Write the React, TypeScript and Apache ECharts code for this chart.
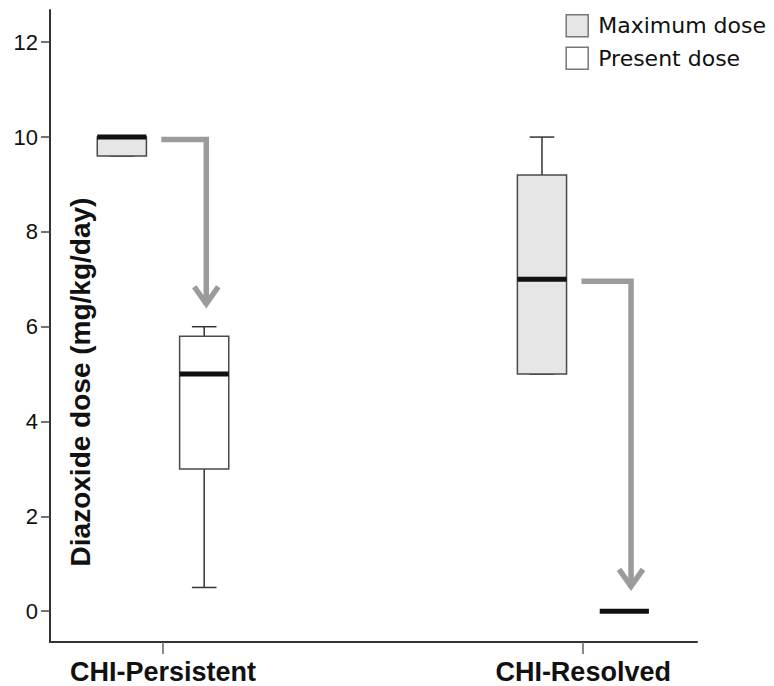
import React, { useEffect, useRef } from 'react';
import * as echarts from 'echarts';

const categories = ['CHI-Persistent', 'CHI-Resolved'];
const yTicks = [0, 2, 4, 6, 8, 10, 12];
// [min, Q1, median, Q3, max]
const maximumDose = [
  [9.6, 9.6, 10, 10, 10],
  [5, 5, 7, 9.2, 10],
];
const presentDose = [
  [0.5, 3, 5, 5.8, 6],
  [0, 0, 0, 0, 0],
];
// arrow from maximum-dose median down to present dose
const arrowStart = [9.95, 6.96];
const arrowEnd = [6.4, 0.44];

const BOX_OFFSET = 0.098;
const BOX_W = 0.117;
const ARROW_START_DX = -0.004;
const ARROW_TURN_DX = [0.103, 0.114];
const FONT = '"Liberation Sans", Arial, sans-serif';

function boxRenderer(offset: number, fill: string) {
  return (params: any, api: any) => {
    const ci = api.value(0);
    const x = ci + offset;
    const p = (v: number) => api.coord([x, v]);
    const [cx, yMin] = p(api.value(1));
    const yQ1 = p(api.value(2))[1];
    const yMed = p(api.value(3))[1];
    const yQ3 = p(api.value(4))[1];
    const yMax = p(api.value(5))[1];
    const halfW = api.coord([x + BOX_W / 2, 0])[0] - cx;
    const capHalf = halfW / 2;
    const wStyle = { stroke: '#333', lineWidth: 1.5 };
    const children: any[] = [
      { type: 'line', shape: { x1: cx, y1: yQ3, x2: cx, y2: yMax }, style: wStyle },
      { type: 'line', shape: { x1: cx, y1: yQ1, x2: cx, y2: yMin }, style: wStyle },
      { type: 'line', shape: { x1: cx - capHalf, y1: yMax, x2: cx + capHalf, y2: yMax }, style: wStyle },
      { type: 'line', shape: { x1: cx - capHalf, y1: yMin, x2: cx + capHalf, y2: yMin }, style: wStyle },
    ];
    if (yQ1 - yQ3 > 0.5) {
      children.push({
        type: 'rect',
        shape: { x: cx - halfW, y: yQ3, width: 2 * halfW, height: yQ1 - yQ3 },
        style: { fill, stroke: '#4a4a4a', lineWidth: 1.5 },
      });
    }
    children.push({
      type: 'line',
      shape: { x1: cx - halfW, y1: yMed, x2: cx + halfW, y2: yMed },
      style: { stroke: '#111', lineWidth: 5 },
    });
    return { type: 'group', children };
  };
}

function arrowRenderer(params: any, api: any) {
  const ci = api.value(0);
  const idx = params.dataIndex;
  const s = api.coord([ci + ARROW_START_DX, api.value(1)]);
  const c = api.coord([ci + ARROW_TURN_DX[idx], api.value(1)]);
  const t = api.coord([ci + ARROW_TURN_DX[idx], api.value(2)]);
  const st = { stroke: '#9b9b9b', lineWidth: 5.5, fill: 'none', lineJoin: 'miter', lineCap: 'butt' };
  return {
    type: 'group',
    children: [
      { type: 'polyline', shape: { points: [s, c, [t[0], t[1] - 3]] }, style: st },
      {
        type: 'polyline',
        shape: { points: [[t[0] - 12, t[1] - 21], [t[0], t[1] - 4], [t[0] + 12, t[1] - 21]] },
        style: st,
      },
    ],
  };
}

export default function App() {
  const ref = useRef<HTMLDivElement>(null);
  useEffect(() => {
    document.body.style.margin = '0';
    const chart = echarts.init(ref.current!, null, { renderer: 'svg' });
    chart.setOption({
      animation: false,
      backgroundColor: '#fff',
      grid: { left: 50, right: 77, top: 10, bottom: 44 },
      legend: {
        orient: 'vertical',
        right: 3,
        top: 9,
        itemWidth: 22,
        itemHeight: 22,
        itemGap: 9,
        icon: 'rect',
        selectedMode: false,
        textStyle: { fontSize: 22, fontFamily: '"DejaVu Sans", sans-serif', color: '#111', padding: [0, 0, 0, 5] },
        data: [
          { name: 'Maximum dose', itemStyle: { color: '#e6e6e6', borderColor: '#777', borderWidth: 1.5 } },
          { name: 'Present dose', itemStyle: { color: '#ffffff', borderColor: '#777', borderWidth: 1.5 } },
        ],
      },
      xAxis: {
        type: 'value',
        min: -0.269,
        max: 1.271,
        axisLine: { onZero: false, lineStyle: { color: '#333', width: 2 } },
        axisTick: { customValues: [0, 1], length: 12, lineStyle: { color: '#666', width: 1.5 } },
        axisLabel: {
          customValues: [0, 1],
          formatter: (v: number) => categories[Math.round(v)],
          fontSize: 27,
          fontWeight: 'bold',
          fontFamily: FONT,
          color: '#111',
          margin: 16,
        },
        splitLine: { show: false },
      },
      yAxis: {
        type: 'value',
        min: -0.65,
        max: 12.68,
        axisLine: { show: true, onZero: false, lineStyle: { color: '#333', width: 2 } },
        axisTick: { show: true, customValues: yTicks, length: 9, lineStyle: { color: '#444', width: 1.5 } },
        axisLabel: { customValues: yTicks, fontSize: 22, fontFamily: FONT, color: '#111', margin: 12 },
        splitLine: { show: false },
      },
      graphic: [
        {
          type: 'text',
          x: 80,
          y: 382,
          rotation: Math.PI / 2,
          style: {
            text: 'Diazoxide dose (mg/kg/day)',
            font: `bold 28px ${FONT}`,
            fill: '#111',
            align: 'center',
            verticalAlign: 'middle',
          },
        },
      ],
      series: [
        {
          name: 'Maximum dose',
          type: 'custom',
          itemStyle: { color: '#e6e6e6', borderColor: '#777' },
          renderItem: boxRenderer(-BOX_OFFSET, '#e6e6e6'),
          encode: { x: 0, y: [1, 2, 3, 4, 5] },
          data: maximumDose.map((d, i) => [i, ...d]),
        },
        {
          name: 'Present dose',
          type: 'custom',
          itemStyle: { color: '#ffffff', borderColor: '#777' },
          renderItem: boxRenderer(BOX_OFFSET, '#ffffff'),
          encode: { x: 0, y: [1, 2, 3, 4, 5] },
          data: presentDose.map((d, i) => [i, ...d]),
        },
        {
          name: 'arrows',
          type: 'custom',
          silent: true,
          renderItem: arrowRenderer,
          encode: { x: 0, y: [1, 2] },
          data: arrowStart.map((v, i) => [i, v, arrowEnd[i]]),
        },
      ],
    });
    return () => chart.dispose();
  }, []);
  return <div ref={ref} style={{ width: 774, height: 686 }} />;
}
